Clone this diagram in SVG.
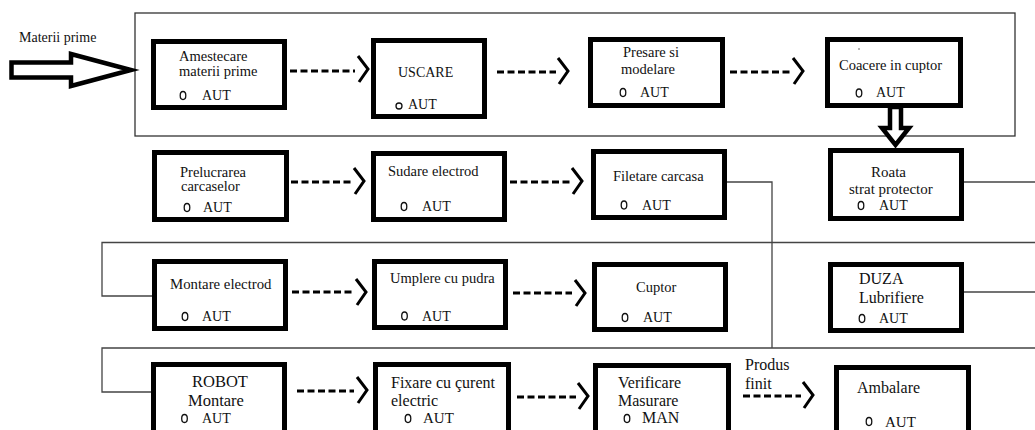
<svg xmlns="http://www.w3.org/2000/svg" xmlns:xlink="http://www.w3.org/1999/xlink" width="1035" height="430" viewBox="0 0 1035 430">
  <style>
    .box { fill: #fff; stroke: #000; stroke-width: 5; }
    .t { font-family: "Liberation Serif", "Times New Roman", serif; font-size: 14.5px; fill: #111; }
    .big { font-size: 16px; }
    .aut { font-size: 14px; }
    .o { fill: none; stroke: #111; stroke-width: 1.3; }
    .dash { fill: none; stroke: #000; stroke-width: 3.2; stroke-dasharray: 7 3.5; }
    .chev { fill: none; stroke: #000; stroke-width: 3; }
    .wire { fill: none; stroke: #444; stroke-width: 1.3; }
    .frame { fill: none; stroke: #333; stroke-width: 1.3; }
    .hollow { fill: #fff; stroke: #000; stroke-width: 4.5; stroke-miterlimit: 4; }
  </style>
  <defs>
    <path id="chev" class="chev" d="M0,-13 L10,0 L1,13"/>
  </defs>

  <rect width="1035" height="430" fill="#fff"/>

  <!-- frame around the raw-material line -->
  <rect class="frame" x="135" y="13" width="880" height="123"/>

  <!-- input label -->
  <text class="t" x="19" y="42" style="font-size:14px">Materii prime</text>

  <!-- row 1 -->
  <g id="n-amestecare">
    <rect class="box" x="153.5" y="41.5" width="131" height="66"/>
    <text class="t" x="179" y="61">Amestecare</text>
    <text class="t" x="179" y="76">materii prime</text>
    <ellipse class="o" cx="183" cy="95.5" rx="2.8" ry="4"/>
    <text class="t aut" x="202" y="100">AUT</text>
  </g>
  <g id="n-uscare">
    <rect class="box" x="373.5" y="40.5" width="111" height="76"/>
    <text class="t aut" x="398" y="77">USCARE</text>
    <circle class="o" cx="399" cy="106" r="3"/>
    <text class="t aut" x="408" y="109">AUT</text>
  </g>
  <g id="n-presare">
    <rect class="box" x="590.5" y="39.5" width="132" height="66"/>
    <text class="t" x="623" y="57">Presare si</text>
    <text class="t" x="621" y="74">modelare</text>
    <ellipse class="o" cx="623" cy="92.5" rx="2.8" ry="4"/>
    <text class="t aut" x="640" y="97">AUT</text>
  </g>
  <g id="n-coacere">
    <rect class="box" x="827.5" y="39.5" width="133" height="66"/>
    <circle cx="859" cy="49" r="0.7" fill="#333"/>
    <text class="t" x="839" y="70">Coacere in cuptor</text>
    <ellipse class="o" cx="859" cy="93" rx="2.8" ry="4"/>
    <text class="t aut" x="876" y="97">AUT</text>
  </g>

  <!-- row 2 -->
  <g id="n-prelucrarea">
    <rect class="box" x="154.5" y="152.5" width="132" height="67"/>
    <text class="t" x="180" y="177">Prelucrarea</text>
    <text class="t" x="181" y="191">carcaselor</text>
    <ellipse class="o" cx="187" cy="207.5" rx="2.8" ry="4"/>
    <text class="t aut" x="203" y="212">AUT</text>
  </g>
  <g id="n-sudare">
    <rect class="box" x="373.5" y="153.5" width="131" height="66"/>
    <text class="t" x="388" y="176">Sudare electrod</text>
    <ellipse class="o" cx="404" cy="206.5" rx="2.8" ry="4"/>
    <text class="t aut" x="422" y="211">AUT</text>
  </g>
  <g id="n-filetare">
    <rect class="box" x="593.5" y="151.5" width="131" height="66"/>
    <text class="t" x="613" y="181">Filetare carcasa</text>
    <ellipse class="o" cx="624" cy="205" rx="2.8" ry="4"/>
    <text class="t aut" x="642" y="210">AUT</text>
  </g>
  <g id="n-roata">
    <rect class="box" x="830.5" y="150.5" width="131" height="68"/>
    <text class="t" x="871" y="177" style="font-size:15px">Roata</text>
    <text class="t" x="849" y="194" style="font-size:15px">strat protector</text>
    <ellipse class="o" cx="861" cy="205.5" rx="2.8" ry="4"/>
    <text class="t aut" x="879" y="210">AUT</text>
  </g>

  <!-- row 3 -->
  <g id="n-montare-electrod">
    <rect class="box" x="154.5" y="261.5" width="131" height="67"/>
    <text class="t" x="170" y="289" style="font-size:14.8px">Montare electrod</text>
    <ellipse class="o" cx="185" cy="316.5" rx="2.8" ry="4"/>
    <text class="t aut" x="202" y="321">AUT</text>
  </g>
  <g id="n-umplere">
    <rect class="box" x="374.5" y="261.5" width="131" height="66"/>
    <text class="t" x="390" y="283">Umplere cu pudra</text>
    <ellipse class="o" cx="404.5" cy="316" rx="2.8" ry="4"/>
    <text class="t aut" x="422" y="320.5">AUT</text>
  </g>
  <g id="n-cuptor">
    <rect class="box" x="594.5" y="264.5" width="131" height="65"/>
    <text class="t" x="636" y="292">Cuptor</text>
    <ellipse class="o" cx="625" cy="317.5" rx="2.8" ry="4"/>
    <text class="t aut" x="643" y="322">AUT</text>
  </g>
  <g id="n-duza">
    <rect class="box" x="830.5" y="264.5" width="131" height="66"/>
    <text class="t big" x="859" y="284">DUZA</text>
    <text class="t big" x="859" y="303">Lubrifiere</text>
    <ellipse class="o" cx="862" cy="318.5" rx="2.8" ry="4"/>
    <text class="t aut" x="879" y="323">AUT</text>
  </g>

  <!-- row 4 -->
  <g id="n-robot">
    <rect class="box" x="153.5" y="364.5" width="131" height="80"/>
    <text class="t" x="192" y="387" style="font-size:16.5px">ROBOT</text>
    <text class="t" x="188" y="406" style="font-size:16.5px">Montare</text>
    <ellipse class="o" cx="184.5" cy="418.5" rx="2.8" ry="4"/>
    <text class="t aut" x="202" y="423">AUT</text>
  </g>
  <g id="n-fixare">
    <rect class="box" x="375.5" y="364.5" width="133" height="80"/>
    <text class="t big" x="391" y="388">Fixare cu çurent</text>
    <text class="t big" x="391" y="406">electric</text>
    <ellipse class="o" cx="408" cy="418.5" rx="2.8" ry="4"/>
    <text class="t" x="423" y="423" style="font-size:15px">AUT</text>
  </g>
  <g id="n-verificare">
    <rect class="box" x="595.5" y="365.5" width="133" height="80"/>
    <text class="t big" x="618" y="388">Verificare</text>
    <text class="t big" x="618" y="406">Masurare</text>
    <ellipse class="o" cx="627" cy="418.5" rx="2.8" ry="4"/>
    <text class="t big" x="642" y="423">MAN</text>
  </g>
  <g id="n-ambalare">
    <rect class="box" x="836.5" y="367.5" width="132" height="80"/>
    <text class="t big" x="857" y="393">Ambalare</text>
    <ellipse class="o" cx="869" cy="421.5" rx="2.8" ry="4"/>
    <text class="t" x="885" y="427" style="font-size:15px">AUT</text>
  </g>

  <!-- flow connectors -->
  <g id="connectors">
    <!-- thin routing lines -->
    <path class="wire" d="M727,182 H772 V348"/>
    <path class="wire" d="M964,182 H1035"/>
    <path class="wire" d="M1035,242.5 H102 V296 H152"/>
    <path class="wire" d="M964,292 H1035"/>
    <path class="wire" d="M1035,348 H102 V392 H151"/>

    <!-- dashed process arrows -->
    <path class="dash" d="M290,71 H355"/>
    <use xlink:href="#chev" x="358" y="69"/>
    <path class="dash" d="M497,72 H556"/>
    <use xlink:href="#chev" x="558" y="71"/>
    <path class="dash" d="M730,72 H791"/>
    <use xlink:href="#chev" x="793" y="71"/>

    <path class="dash" d="M291,182 H352"/>
    <use xlink:href="#chev" x="354" y="181"/>
    <path class="dash" d="M510,182 H570"/>
    <use xlink:href="#chev" x="572" y="181"/>

    <path class="dash" d="M292,292 H353"/>
    <use xlink:href="#chev" x="356" y="292"/>
    <path class="dash" d="M513,293 H572"/>
    <use xlink:href="#chev" x="575" y="293"/>

    <path class="dash" d="M297,391 H354"/>
    <use xlink:href="#chev" x="357" y="390"/>
    <path class="dash" d="M517,397 H576"/>
    <use xlink:href="#chev" x="578" y="396"/>
    <path class="dash" d="M743,396 H801"/>
    <use xlink:href="#chev" x="803" y="395"/>
    <text class="t big" x="745" y="370">Produs</text>
    <text class="t big" x="745" y="389">finit</text>

    <!-- hollow block arrows -->
    <polygon class="hollow" points="11.5,62.5 71,62.5 71,54 131,70 71,86 71,77.5 11.5,77.5"/>
    <polygon class="hollow" points="890,107 890,128 882,128 895.5,145 909,128 901,128 901,107"/>
  </g>
</svg>
